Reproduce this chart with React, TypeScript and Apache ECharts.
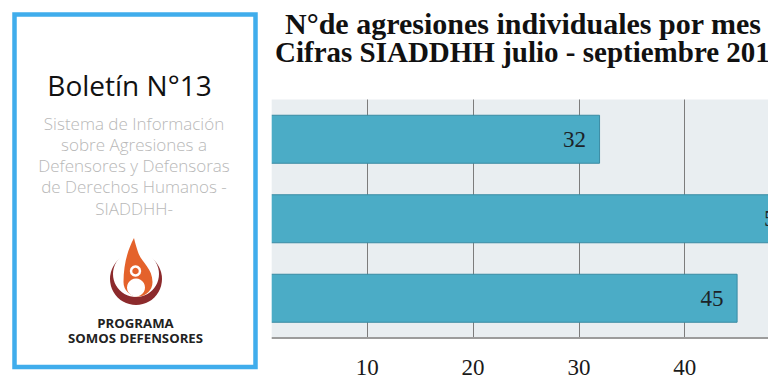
import React, { useEffect, useRef } from "react";
import * as echarts from "echarts";

const categories = ["julio", "agosto", "septiembre"];
const values = [32, 51, 45];
const xTicks = [0, 10, 20, 30, 40, 50, 60];
const titleLines = [
  "N°de agresiones individuales por mes",
  "Cifras SIADDHH julio - septiembre 2018",
];
const panelHeading = "Boletín N°13";
const panelLines = [
  "Sistema de Información",
  "sobre Agresiones a",
  "Defensores y Defensoras",
  "de Derechos Humanos -",
  "SIADDHH-",
];
const logoLines = ["PROGRAMA", "SOMOS DEFENSORES"];

const FLAME =
  "M134 238 C128 249 123.5 264 123.5 282 A14.5 14.5 0 0 0 152.5 282 C152.5 268 141 262 138 252 C136.5 247 135 243 134 238 Z";

let registered = false;

export default function App() {
  const ref = useRef<HTMLDivElement>(null);

  useEffect(() => {
    if (!ref.current) return;
    if (!registered) {
      echarts.graphic.registerShape("logo", echarts.graphic.extendPath(FLAME, {}) as any);
      registered = true;
    }
    const chart = echarts.init(ref.current, null, { renderer: "svg" });
    const serif = "Liberation Serif";
    const sans = "Open Sans";

    const titleStarts = [285, 275];
    const titleSizes = [30, 29];

    const graphics: any[] = [
      // cover gap between panel and plot
      { type: "rect", z: 100, shape: { x: 258, y: 90, width: 13.7, height: 260 }, style: { fill: "#ffffff" } },
      // left panel
      { type: "rect", z: 101, shape: { x: 14.5, y: 14.5, width: 241, height: 352.5 }, style: { fill: "#ffffff", stroke: "#40adec", lineWidth: 4.5 } },
      { type: "text", z: 102, x: 129.5, y: 85, style: { text: panelHeading, font: `500 28px "${sans}"`, fill: "#111111", align: "center", verticalAlign: "middle" } },
      ...panelLines.map((t, i) => ({
        type: "text", z: 102, x: 134, y: 123 + i * 21.3,
        style: { text: t, font: `300 17px "${sans}"`, fill: "#b8b8b8", align: "center", verticalAlign: "middle" },
      })),
      // logo
      { type: "circle", z: 102, shape: { cx: 136, cy: 279, r: 26 }, style: { fill: "#8c2a2c" } },
      { type: "circle", z: 103, shape: { cx: 136, cy: 274, r: 23 }, style: { fill: "#ffffff" } },
      { type: "logo", z: 104, x: 0, y: 0, style: { fill: "#e4622b" } },
      { type: "circle", z: 105, shape: { cx: 135.5, cy: 271, r: 4.5 }, style: { fill: "#e4622b", stroke: "#ffffff", lineWidth: 2.5 } },
      { type: "circle", z: 105, shape: { cx: 136, cy: 287.5, r: 9 }, style: { fill: "#ffffff" } },
      ...logoLines.map((t, i) => ({
        type: "text", z: 102, x: 135.5, y: 323 + i * 14.5,
        style: { text: t, font: `700 13.2px "${sans}"`, fill: "#222222", align: "center", verticalAlign: "middle" },
      })),
      // chart title
      ...titleLines.map((t, i) => ({
        type: "text", z: 102, x: titleStarts[i], y: 23 + i * 28.5,
        style: { text: t, font: `700 ${titleSizes[i]}px "${serif}"`, fill: "#111111", align: "left", verticalAlign: "middle" },
      })),
    ];

    chart.setOption({
      animation: false,
      backgroundColor: "#ffffff",
      grid: {
        left: 261.5,
        top: 99.5,
        width: 634.8,
        height: 238.5,
        show: true,
        backgroundColor: "#e9eef1",
        borderWidth: 0,
        containLabel: false,
        outerBoundsMode: "none",
      },
      xAxis: {
        type: "value",
        min: xTicks[0],
        max: xTicks[xTicks.length - 1],
        interval: xTicks[1] - xTicks[0],
        axisLine: { show: true, lineStyle: { color: "#9c9c9c", width: 2 } },
        axisTick: { show: false },
        splitLine: { show: true, lineStyle: { color: "#7c7c7c", width: 1 } },
        axisLabel: {
          showMinLabel: false,
          margin: 18,
          fontFamily: serif,
          fontSize: 23,
          color: "#1a1a1a",
        },
      },
      yAxis: {
        type: "category",
        data: categories,
        inverse: true,
        axisLine: { show: false },
        axisTick: { show: false },
        axisLabel: { show: false },
        splitLine: { show: false },
      },
      series: [
        {
          type: "bar",
          data: values,
          barWidth: 49,
          itemStyle: { color: "#4bacc6", borderColor: "#3a8ba3", borderWidth: 1 },
          label: {
            show: true,
            position: "insideRight",
            distance: 14,
            fontFamily: serif,
            fontSize: 23,
            color: "#1c2328",
          },
        },
      ],
      graphic: { elements: graphics },
    });
    return () => chart.dispose();
  }, []);

  return (
    <div
      ref={ref}
      style={{ position: "fixed", left: 0, top: 0, width: 768, height: 384, overflow: "hidden" }}
    />
  );
}
